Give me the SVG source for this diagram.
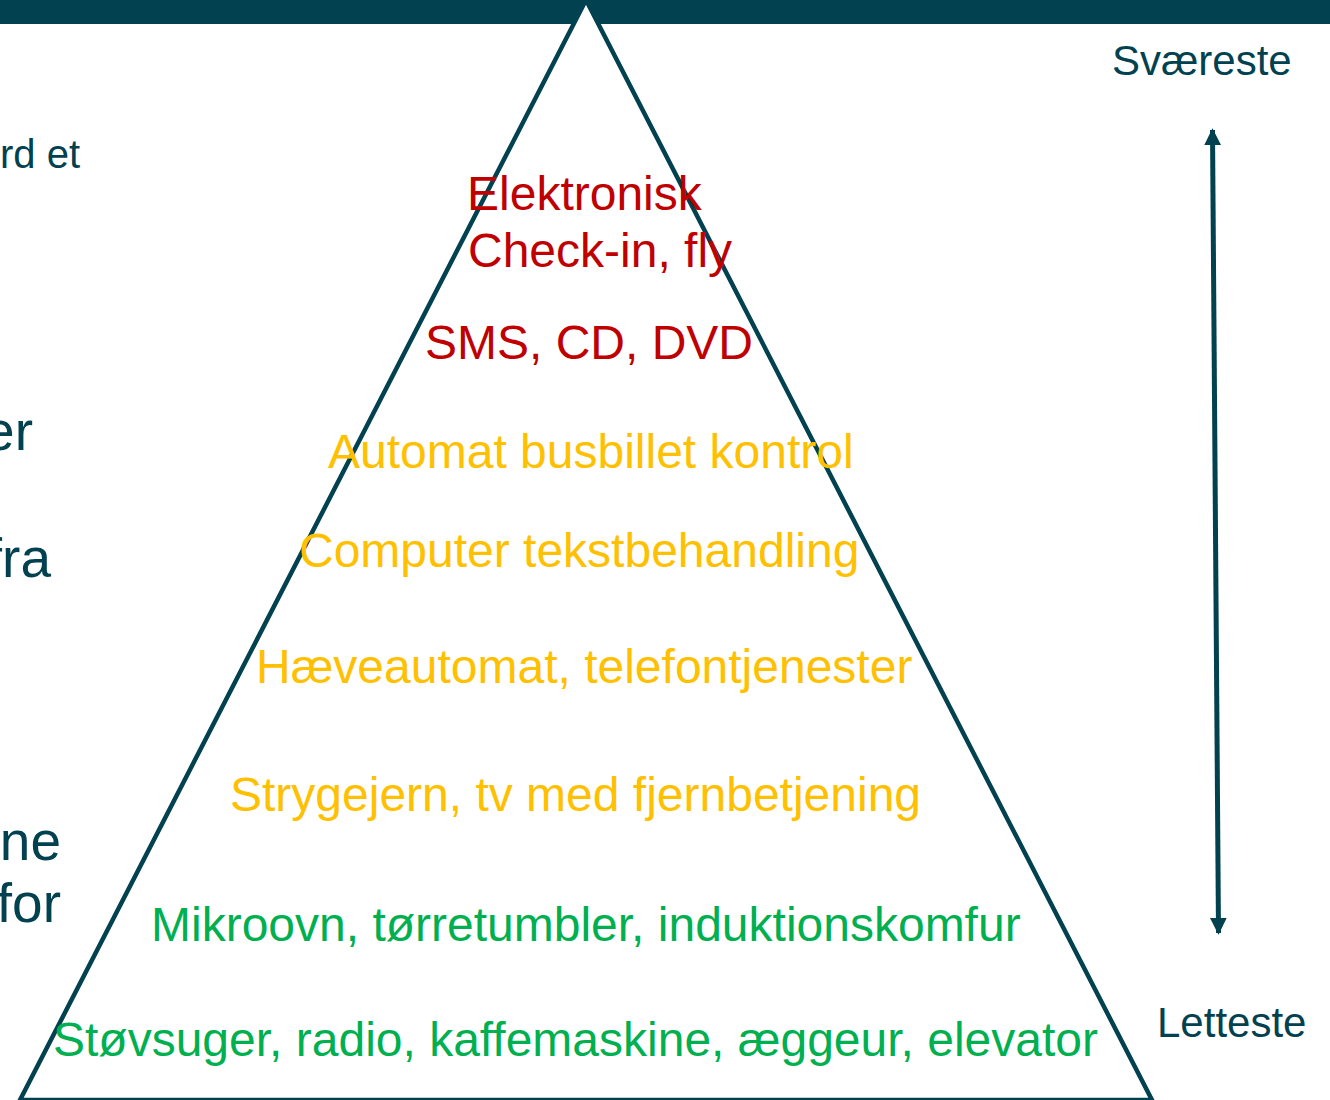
<svg xmlns="http://www.w3.org/2000/svg" width="1330" height="1100" viewBox="0 0 1330 1100">
<style>
text{font-family:"Liberation Sans",Arial,sans-serif}
.dk{fill:#02414F}
.r{fill:#C00000;font-size:48px}
.y{fill:#FFC000;font-size:48px}
.g{fill:#00B050;font-size:48px}
.side{font-size:42px}
.left{font-size:55px}
</style>
<defs>
<marker id="ah" viewBox="0 0 10 10" refX="9" refY="5" markerWidth="17" markerHeight="17" markerUnits="userSpaceOnUse" orient="auto-start-reverse">
<path d="M0,0 L10,5 L0,10 Z" fill="#02414F"/>
</marker>
</defs>
<rect width="1330" height="1100" fill="#FFFFFF"/>
<rect id="topbar" x="0" y="0" width="1330" height="24" fill="#02414F"/>
<g id="left-text" class="dk">
<text x="80" y="168" text-anchor="end" style="font-size:40px">rd et</text>
<text x="33" y="450" text-anchor="end" class="left">er</text>
<text x="51" y="577" text-anchor="end" class="left">fra</text>
<text x="61" y="860" text-anchor="end" class="left">ne</text>
<text x="61" y="922" text-anchor="end" class="left">for</text>
</g>
<g id="pyramid">
<polygon points="586,0 20,1100 1152,1100" fill="#FFFFFF" stroke="#02414F" stroke-width="4.5" stroke-linejoin="miter"/>
</g>
<g id="level-1"><text class="r" x="467" y="210">Elektronisk</text><text class="r" x="468" y="267">Check-in, fly</text></g>
<g id="level-2"><text class="r" x="425" y="359">SMS, CD, DVD</text></g>
<g id="level-3"><text class="y" x="328" y="468">Automat busbillet kontrol</text></g>
<g id="level-4"><text class="y" x="299" y="567">Computer tekstbehandling</text></g>
<g id="level-5"><text class="y" x="256" y="683">Hæveautomat, telefontjenester</text></g>
<g id="level-6"><text class="y" x="230" y="811">Strygejern, tv med fjernbetjening</text></g>
<g id="level-7"><text class="g" x="151" y="941">Mikroovn, tørretumbler, induktionskomfur</text></g>
<g id="level-8"><text class="g" x="53" y="1056">Støvsuger, radio, kaffemaskine, æggeur, elevator</text></g>
<g id="label-top"><text class="dk side" x="1112" y="75">Sværeste</text></g>
<g id="label-bottom"><text class="dk side" x="1157" y="1037">Letteste</text></g>
<g id="connectors">
<line x1="1212.5" y1="130" x2="1218.5" y2="933" stroke="#02414F" stroke-width="5" marker-start="url(#ah)" marker-end="url(#ah)"/>
</g>
</svg>
